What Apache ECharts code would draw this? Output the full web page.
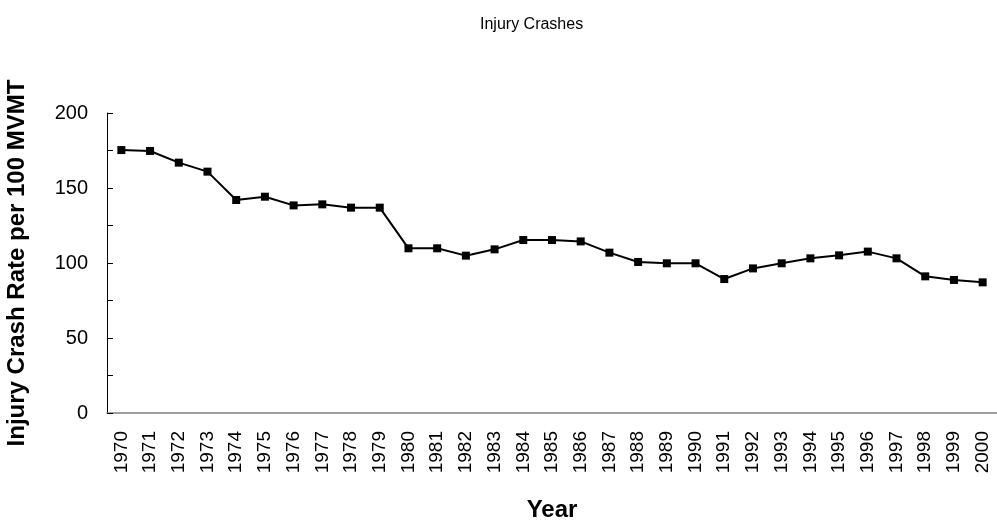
<!DOCTYPE html>
<html>
<head>
<meta charset="utf-8">
<script src="https://cdn.jsdelivr.net/npm/echarts@6/dist/echarts.min.js"></script>
<style>
  html, body { margin: 0; padding: 0; background: #fff; }
  #chart { width: 997px; height: 520px; }
</style>
</head>
<body>
<div id="chart"></div>
<script>
// years on the x axis
var years = ['1970','1971','1972','1973','1974','1975','1976','1977','1978','1979',
  '1980','1981','1982','1983','1984','1985','1986','1987','1988','1989',
  '1990','1991','1992','1993','1994','1995','1996','1997','1998','1999','2000'];
// injury crash rate per 100 MVMT
var crashRate = [175.3, 174.7, 166.9, 160.9, 142.0, 144.2, 138.4, 139.1, 136.9, 136.9,
  109.8, 109.8, 104.9, 109.1, 115.3, 115.3, 114.4, 106.9, 100.7, 99.8,
  99.8, 89.3, 96.4, 99.8, 103.1, 105.1, 107.6, 103.1, 91.1, 88.7, 87.1];
var yTicks = [0, 50, 100, 150, 200];

var myChart = echarts.init(document.getElementById('chart'));
myChart.setOption({
  animation: false,
  title: {
    text: 'Injury Crashes',
    left: 475,
    top: 12,
    textStyle: { fontFamily: 'Liberation Sans', fontSize: 16, fontWeight: 'normal', color: '#000' }
  },
  grid: { left: 107, right: 0, top: 113, bottom: 107, containLabel: false, outerBoundsMode: 'none' },
  xAxis: {
    type: 'category',
    data: years,
    boundaryGap: true,
    name: 'Year',
    nameLocation: 'middle',
    nameGap: 85,
    nameTextStyle: { fontFamily: 'Liberation Sans', fontSize: 24, fontWeight: 'bold', color: '#000' },
    axisLine: { lineStyle: { color: '#808080', width: 1.5 } },
    axisTick: { show: false },
    axisLabel: { rotate: 90, interval: 0, margin: 18, fontFamily: 'Liberation Sans', fontSize: 19, color: '#000' }
  },
  yAxis: {
    type: 'value',
    min: 0,
    max: 200,
    interval: 25,
    name: 'Injury Crash Rate per 100 MVMT',
    nameLocation: 'middle',
    nameGap: 78,
    nameTextStyle: { fontFamily: 'Liberation Sans', fontSize: 24, fontWeight: 'bold', color: '#000' },
    axisLine: { show: true, lineStyle: { color: '#000', width: 1 } },
    axisTick: { show: true, inside: true, length: 6, lineStyle: { color: '#000' } },
    splitLine: { show: false },
    axisLabel: {
      margin: 19,
      fontFamily: 'Liberation Sans', fontSize: 20, color: '#000',
      formatter: function (v) { return yTicks.indexOf(v) >= 0 ? String(v) : ''; }
    }
  },
  series: [{
    type: 'line',
    data: crashRate,
    symbol: 'rect',
    symbolSize: 8,
    lineStyle: { color: '#000', width: 2 },
    itemStyle: { color: '#000' }
  }]
});
</script>
</body>
</html>
